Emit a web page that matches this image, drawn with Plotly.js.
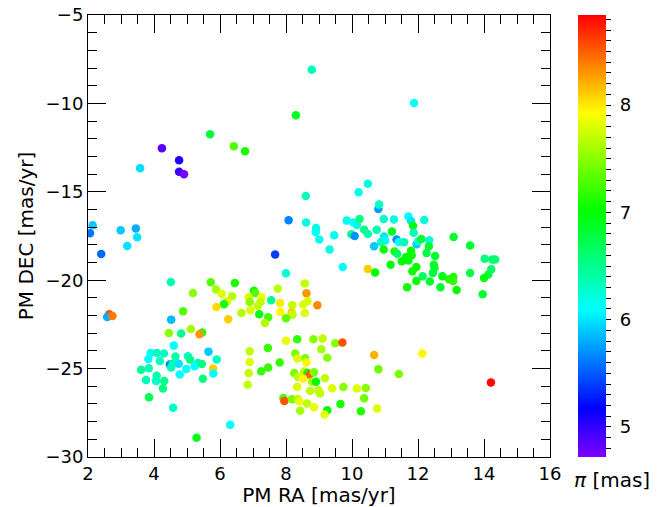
<!DOCTYPE html>
<html>
<head>
<meta charset="utf-8">
<script src="https://cdn.plot.ly/plotly-3.0.1.min.js"></script>
<style>html,body{margin:0;padding:0;background:#fff;}#chart{width:671px;height:507px;}</style>
</head>
<body>
<div id="chart"></div>
<script>
// Proper motion in RA [mas/yr]
const pmra = [
  5.70,4.24,6.42,6.76,4.76,3.58,4.76,4.91,8.78,8.30,11.88,
  2.14,2.06,2.99,3.45,3.49,3.19,2.40,7.67,8.00,4.51,5.72,6.45,5.88,6.05,5.18,7.75,6.37,7.03,7.07,
  6.87,7.26,6.22,6.12,6.90,7.23,7.55,7.82,5.89,7.14,4.88,8.57,8.62,8.95,8.65,8.52,8.19,6.65,6.92,
  7.19,7.46,7.36,7.83,8.17,8.20,8.00,8.57,6.25,5.46,8.00,8.34,8.83,9.11,9.49,9.71,
  10.48,10.20,8.60,10.80,10.82,8.08,8.61,9.84,10.04,10.15,10.23,10.96,11.27,11.71,11.79,11.85,12.19,
  8.91,8.90,9.01,9.46,9.32,9.98,10.08,10.37,10.48,10.75,11.21,10.97,11.01,10.88,10.67,11.35,11.42,
  11.58,11.87,11.96,12.01,12.10,12.34,12.33,10.96,11.29,11.37,11.79,11.81,11.64,11.71,11.51,11.17,
  12.26,12.52,13.08,13.58,14.02,14.25,14.34,14.22,14.13,14.00,13.96,13.58,13.07,12.94,13.06,13.17,
  12.68,12.74,12.36,12.14,12.45,12.50,12.48,11.95,11.83,11.95,11.67,10.48,10.70,9.72,
  4.45,4.82,5.38,4.60,5.65,6.90,3.90,4.09,4.30,3.83,4.18,4.65,5.03,5.09,5.90,6.90,4.48,4.57,4.75,
  4.52,5.33,5.23,5.45,4.98,3.61,3.84,5.79,5.80,4.78,4.08,3.76,4.06,4.31,5.48,4.27,6.87,6.84,3.85,
  4.58,6.31,5.29,2.64,2.58,2.74,4.52,5.12,
  7.45,8.28,8.58,9.07,9.25,8.35,8.62,10.67,7.81,7.46,7.25,8.25,8.36,8.55,8.65,8.71,8.85,8.79,8.91,
  9.18,8.52,10.80,8.34,8.73,8.98,9.03,9.40,9.74,10.15,10.42,7.92,7.95,8.18,8.36,8.40,8.64,8.85,9.25,
  9.17,8.43,9.65,10.37,10.27,10.76,14.21,12.13,11.42
];
// Proper motion in DEC [mas/yr]
const pmdec = [
  -11.75,-12.54,-12.43,-12.71,-13.22,-13.67,-13.87,-14.01,-8.09,-10.67,-9.98,
  -16.89,-17.35,-17.18,-17.08,-17.57,-18.07,-18.52,-18.55,-19.61,-20.10,-20.12,-20.16,-20.53,-20.76,-20.72,-20.48,-20.91,-20.60,-20.72,
  -20.97,-20.97,-21.19,-21.36,-21.23,-21.23,-21.14,-21.29,-21.52,-21.45,-21.76,-20.19,-20.74,-21.42,-21.19,-21.38,-21.42,-21.86,-21.70,
  -21.93,-22.10,-22.42,-21.80,-21.82,-21.95,-22.15,-21.86,-22.21,-22.96,-23.42,-23.34,-23.34,-23.30,-23.57,-23.53,
  -14.54,-15.03,-15.24,-15.97,-15.72,-16.61,-16.74,-16.63,-16.74,-16.88,-16.54,-16.54,-16.57,-16.39,-16.65,-16.92,-16.60,
  -17.05,-17.27,-17.70,-17.46,-18.27,-17.40,-17.50,-17.14,-17.39,-17.14,-17.25,-17.53,-17.76,-17.84,-18.08,-17.70,-17.84,
  -17.86,-17.31,-17.97,-17.80,-17.67,-17.74,-18.08,-18.27,-18.38,-18.50,-18.33,-18.59,-18.69,-18.89,-18.93,-19.13,
  -18.46,-18.63,-17.56,-18.04,-18.78,-18.83,-18.83,-19.38,-19.68,-19.88,-20.80,-19.59,-19.82,-19.95,-20.05,-20.55,
  -20.40,-19.78,-20.08,-19.78,-19.59,-19.31,-19.12,-19.25,-19.50,-20.05,-20.40,-19.37,-19.57,-19.25,
  -22.99,-23.02,-23.06,-23.70,-24.04,-24.02,-24.12,-24.12,-24.15,-24.46,-24.57,-24.32,-24.30,-24.49,-24.49,-24.63,-24.77,-24.72,-24.72,
  -24.94,-24.68,-24.87,-24.74,-25.02,-25.06,-24.98,-25.00,-25.28,-25.34,-25.40,-25.64,-25.70,-25.70,-25.57,-26.13,-25.25,-25.91,-26.62,
  -27.21,-28.17,-28.91,-21.93,-22.08,-22.03,-22.23,-22.76,
  -23.83,-24.15,-24.42,-23.91,-24.38,-24.43,-24.66,-24.23,-24.66,-24.94,-25.15,-25.25,-25.48,-25.17,-25.25,-25.34,-25.21,-25.74,-25.74,
  -25.55,-25.57,-25.04,-26.04,-26.27,-26.23,-26.41,-26.11,-26.04,-26.13,-26.10,-26.66,-26.83,-26.74,-26.74,-26.85,-26.98,-27.19,-27.36,
  -27.59,-27.38,-27.00,-26.68,-27.41,-27.25,-25.79,-24.15,-25.31
];
// Parallax [mas]
const parallax = [
  6.8,4.87,7.3,7.1,5.05,5.97,4.98,4.75,6.35,6.9,6.1,
  5.9,5.6,5.9,5.8,6.0,6.0,5.55,5.4,6.25,6.4,7.3,7.1,7.6,7.8,7.5,7.7,7.65,7.05,7.3,
  7.8,7.9,7.8,7.1,7.5,7.7,6.5,8.0,8.05,7.7,7.3,7.7,8.3,8.35,7.8,7.8,7.7,7.65,7.8,
  6.95,7.25,7.65,7.95,8.1,7.7,7.35,7.8,8.1,7.15,7.85,7.2,7.5,7.7,7.5,8.55,
  6.2,6.15,6.35,5.75,6.3,5.65,6.2,6.15,6.1,6.2,6.55,6.3,6.2,6.1,6.0,7.0,6.25,
  6.2,6.15,6.15,6.15,6.2,6.5,5.7,6.55,6.4,6.4,6.9,6.0,6.1,6.3,5.9,5.7,6.1,
  6.35,6.35,5.9,6.25,6.85,6.2,6.85,7.05,7.1,6.65,7.05,7.05,7.0,6.95,7.0,6.95,
  6.75,6.85,6.85,6.85,6.55,6.6,6.6,6.65,6.8,6.95,6.85,6.75,7.1,7.15,7.2,7.0,
  6.85,6.95,6.85,6.65,6.75,6.85,6.85,7.05,7.05,7.05,7.05,8.1,7.0,6.1,
  7.5,6.5,8.3,6.1,5.9,7.7,6.1,6.35,6.3,6.1,6.3,6.4,6.3,6.5,6.3,7.8,5.65,6.4,6.0,
  6.35,6.35,6.1,6.55,6.1,6.5,6.35,8.1,6.1,6.1,6.4,6.35,6.3,6.5,6.55,6.55,7.7,7.7,6.7,
  6.3,6.1,6.9,8.55,5.8,8.4,5.85,7.6,
  7.2,7.45,7.45,7.6,7.5,7.8,7.95,8.2,7.2,7.2,7.2,7.45,7.7,7.7,6.95,8.5,7.45,7.6,7.0,
  7.7,7.95,7.4,7.8,7.7,7.7,7.7,7.8,7.5,7.8,7.5,7.3,8.55,7.45,7.65,7.85,7.7,7.85,7.0,
  7.85,7.6,7.1,7.4,7.15,7.8,8.8,7.95,7.45
];
const xTickVals = [2,4,6,8,10,12,14,16];
const yTickVals = [-30,-25,-20,-15,-10,-5];
const cbTickVals = [4.8,4.9,5.0,5.1,5.2,5.3,5.4,5.5,5.6,5.7,5.8,5.9,6.0,6.1,6.2,6.3,6.4,6.5,6.6,6.7,6.8,6.9,7.0,7.1,7.2,7.3,7.4,7.5,7.6,7.7,7.8,7.9,8.0,8.1,8.2,8.3,8.4,8.5,8.6,8.7,8.8];
const cbTickText = cbTickVals.map(v => (Math.abs(v - Math.round(v)) < 1e-6 ? '\u00a0' + String(Math.round(v)) : ''));

const FONT = 'DejaVu Sans, sans-serif';
const FS = 18;   // tick labels
const FT = 20;   // axis titles
const colorscale = [[0,'#8000ff'],[1/9,'#0000ff'],[3/9,'#00ffff'],[5/9,'#00ff00'],[7/9,'#ffff00'],[1,'#ff0000']];

const trace = {
  type: 'scatter', mode: 'markers', x: pmra, y: pmdec, hoverinfo: 'skip',
  marker: {
    size: 8.5, color: parallax, colorscale: colorscale, cmin: 4.72, cmax: 8.84,
    line: {width: 0},
    colorbar: {
      x: 1.0606, xanchor: 'left', xpad: 0, y: 0.5, yanchor: 'middle', ypad: 0,
      len: 1, lenmode: 'fraction', thickness: 28, thicknessmode: 'pixels',
      outlinewidth: 0, ticks: 'outside', ticklen: 5, tickcolor: '#000',
      tickmode: 'array', tickvals: cbTickVals, ticktext: cbTickText,
      tickfont: {family: FONT, size: FS, color: '#000'}
    }
  }
};

const axisCommon = {
  showgrid: false, zeroline: false, showline: true, linecolor: '#000', linewidth: 1,
  mirror: 'allticks', ticks: 'inside', ticklen: 18, tickwidth: 1, tickcolor: '#000',
  tickfont: {family: FONT, size: FS, color: '#000'}
};

const layout = {
  width: 671, height: 507, autosize: false,
  paper_bgcolor: '#fff', plot_bgcolor: '#fff',
  margin: {l: 88, r: 121, t: 15, b: 50, pad: 0},
  showlegend: false,
  font: {family: FONT, size: FS, color: '#000'},
  xaxis: Object.assign({}, axisCommon, {
    range: [2, 16], tickmode: 'array', tickvals: xTickVals,
    minor: {dtick: 0.5, ticks: 'inside', ticklen: 9, tickcolor: '#000', tickwidth: 1, showgrid: false},
    title: {text: 'PM RA [mas/yr]', font: {family: FONT, size: FT, color: '#000'}, standoff: 3}
  }),
  yaxis: Object.assign({}, axisCommon, {
    range: [-30, -5], tickmode: 'array', tickvals: yTickVals,
    minor: {dtick: 1, ticks: 'inside', ticklen: 9, tickcolor: '#000', tickwidth: 1, showgrid: false},
    title: {text: 'PM DEC [mas/yr]', font: {family: FONT, size: FT, color: '#000'}, standoff: 6}
  }),
  annotations: [{
    xref: 'paper', yref: 'paper', x: 1.134, y: -0.052, xanchor: 'center', yanchor: 'middle',
    text: '<i>π</i> [mas]', showarrow: false, font: {family: FONT, size: FT, color: '#000'}
  }]
};

Plotly.newPlot('chart', [trace], layout, {staticPlot: true, displayModeBar: false});
</script>
</body>
</html>
